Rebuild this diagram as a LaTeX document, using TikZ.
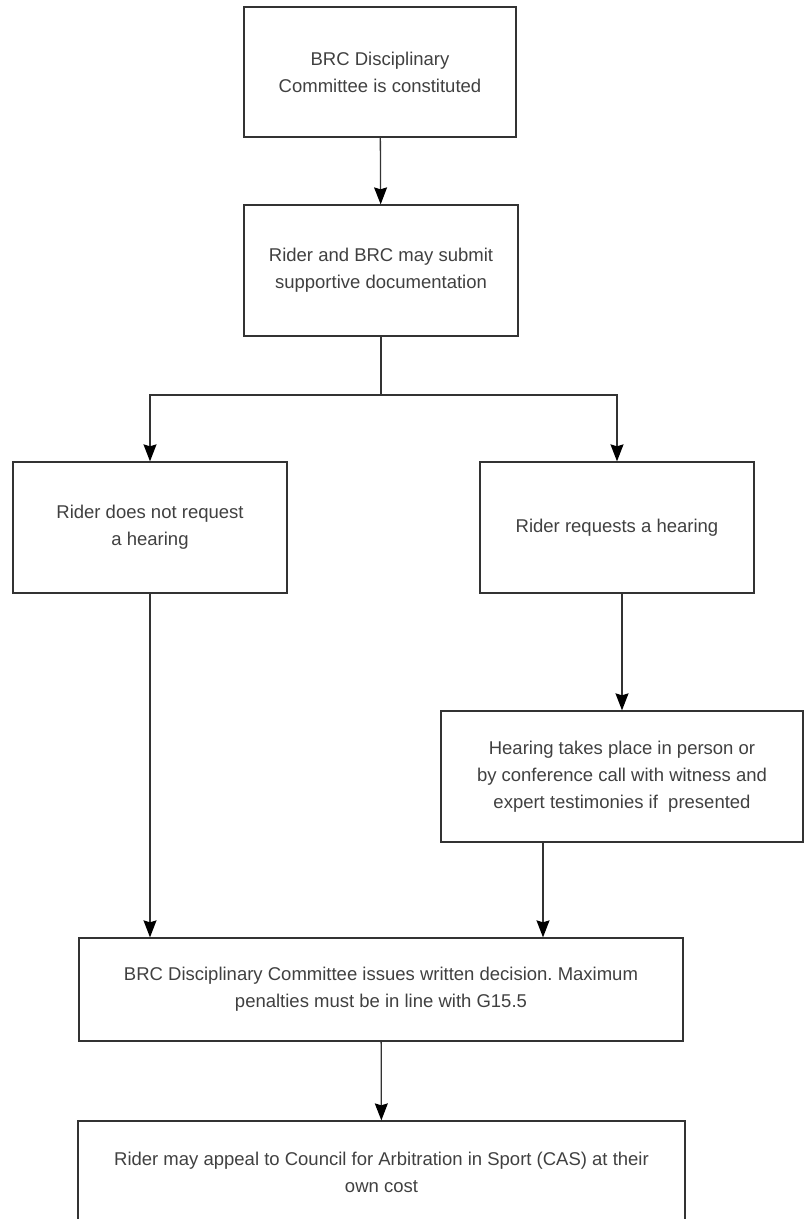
\documentclass[tikz,border=0pt]{standalone}
\usepackage{fontspec}
\setmainfont{Liberation Sans}
\frenchspacing
\usetikzlibrary{arrows.meta, positioning}
\definecolor{boxline}{HTML}{333333}
\definecolor{boxtext}{HTML}{404040}
\tikzset{
    stepbox/.style={draw=boxline, line width=1.3pt, align=center, inner sep=0pt, text=boxtext,
        font=\fontsize{18.5}{27}\selectfont},
    wire/.style={draw=boxline, line width=1.3pt},
    flow/.style={wire, -{Stealth[length=17pt, width=13pt, inset=2pt, color=black]}},
}

\begin{document}
\begin{tikzpicture}[x=1pt, y=-1pt]
    \useasboundingbox (0,0) rectangle (807,1219);
    \node[stepbox, minimum width=272pt, minimum height=130pt] (constituted) at (380,72) {BRC Disciplinary\\Committee is constituted};
    \node[stepbox, minimum width=274pt, minimum height=131pt] (documentation) at (381,270.5) {Rider and BRC may submit\\supportive documentation};
    \node[stepbox, minimum width=274pt, minimum height=131pt] (nohearing) at (150,527.5) {Rider does not request\\a hearing};
    \node[stepbox, minimum width=274pt, minimum height=131pt] (hearing) at (617,527.5) {Rider requests a hearing};
    \node[stepbox, minimum width=362pt, minimum height=131pt] (testimony) at (622,776.5) {Hearing takes place in person or\\by conference call with witness and\\expert testimonies if\ \ presented};
    \node[stepbox, minimum width=604pt, minimum height=103pt] (decision) at (381,989.5) {BRC Disciplinary Committee issues written decision. Maximum\\penalties must be in line with G15.5};
    \node[stepbox, minimum width=607pt, minimum height=103pt] (appeal) at (381.5,1172.5) {Rider may appeal to Council for Arbitration in Sport (CAS) at their\\own cost};
    \coordinate (fork) at (381,395);

    \draw[flow] (constituted) -- (documentation);
    \draw[wire] (documentation.south) -- (fork);
    \draw[flow] (fork) -| (nohearing.north);
    \draw[flow] (fork) -| (hearing.north);
    \draw[flow] (testimony.north |- hearing.south) -- (testimony.north);
    \draw[flow] (nohearing) -- (nohearing |- decision.north);
    \draw[flow] ([xshift=-79pt]testimony.south) -- ([xshift=-79pt]testimony.south |- decision.north);
    \draw[flow] (decision) -- (appeal);
\end{tikzpicture}
\end{document}
